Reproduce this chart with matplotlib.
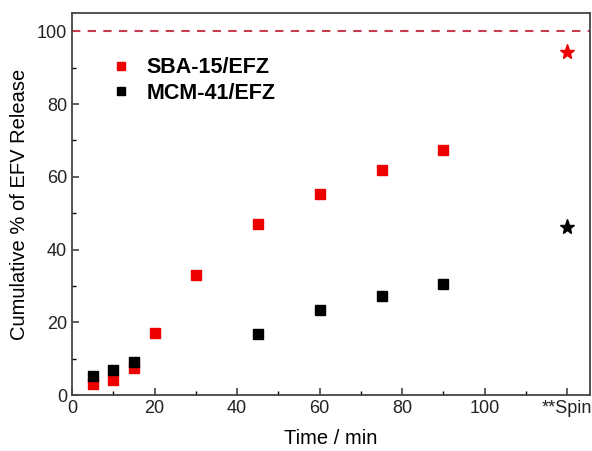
import matplotlib.pyplot as plt
import matplotlib
matplotlib.rcParams['font.family'] = ['Liberation Sans', 'DejaVu Sans']
matplotlib.rcParams['font.size'] = 13

# release data (time in min, cumulative %)
time_sba = [5, 10, 15, 20, 30, 45, 60, 75, 90]
sba = [3.0, 4.1, 7.5, 17.1, 33.0, 47.0, 55.3, 62.0, 67.3]
time_mcm = [5, 10, 15, 45, 60, 75, 90]
mcm = [5.2, 7.0, 9.0, 16.7, 23.5, 27.2, 30.5]
spin_x = 120
spin_sba = 94.2
spin_mcm = 46.3
xticks = [0, 20, 40, 60, 80, 100, 120]
xticklabels = ['0', '20', '40', '60', '80', '100', '**Spin']

fig = plt.figure(figsize=(5.92, 4.51), dpi=100)
ax = fig.add_axes([0.1216, 0.124, 0.875, 0.847])

ax.axhline(100, color='#c83c50', linestyle=(0, (4, 3.5)), linewidth=1.5)
ax.plot(time_sba, sba, 's', color='#ee0000', markersize=7, label='SBA-15/EFZ', linestyle='none')
ax.plot(time_mcm, mcm, 's', color='black', markersize=7, label='MCM-41/EFZ', linestyle='none')
ax.plot(spin_x, spin_sba, '*', color='#ee0000', markersize=11)
ax.plot(spin_x, spin_mcm, '*', color='black', markersize=11)

ax.set_xlim(0, 125.5)
ax.set_ylim(0, 105)
ax.set_xticks(xticks)
ax.set_xticklabels(xticklabels)
ax.set_xticks(range(10, 125, 20), minor=True)
ax.set_yticks([0, 20, 40, 60, 80, 100])
ax.set_yticks(range(10, 100, 20), minor=True)
ax.tick_params(which='both', direction='in')
ax.tick_params(which='major', length=5, width=1.2)
ax.tick_params(which='minor', length=3, width=1)
ax.tick_params(axis='both', colors='#444444', labelcolor='#222222')
for s in ax.spines.values():
    s.set_linewidth(1.3)
    s.set_color('#444444')

ax.set_xlabel('Time / min', fontsize=14.5, labelpad=9)
ax.set_ylabel('Cumulative % of EFV Release', fontsize=14.5, labelpad=6)

ax.legend(loc='upper left', bbox_to_anchor=(0.015, 0.935), frameon=False,
          prop={'weight': 'bold', 'size': 15.5}, handletextpad=0.2,
          labelspacing=0.2, markerscale=0.85)

fig.savefig('out.png', dpi=100)
